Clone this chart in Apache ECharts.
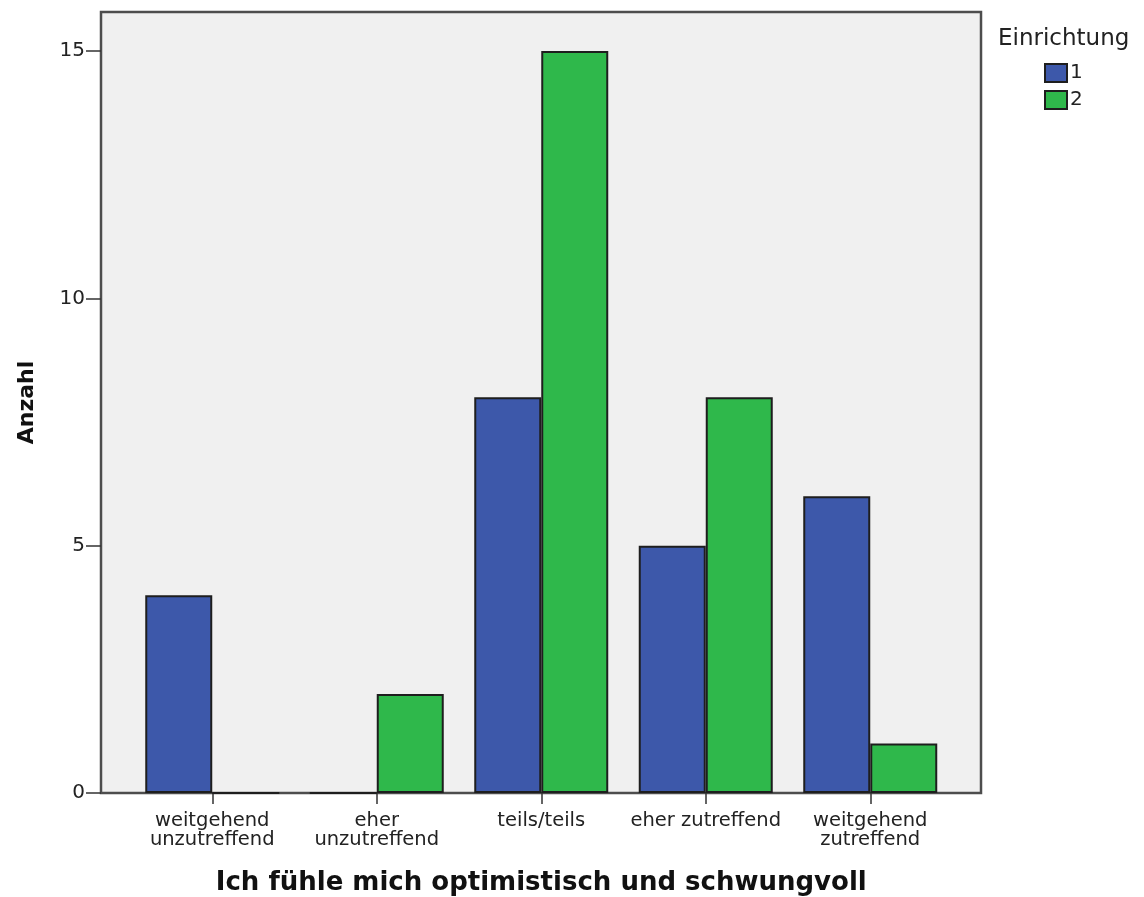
<!DOCTYPE html>
<html>
<head>
<meta charset="utf-8">
<script src="https://cdn.jsdelivr.net/npm/echarts@6/dist/echarts.min.js"></script>
<style>
html,body{margin:0;padding:0;background:#fff;}
#chart{width:1144px;height:897px;}
</style>
</head>
<body>
<div id="chart"></div>
<script>
const categories = ['weitgehend\nunzutreffend', 'eher\nunzutreffend', 'teils/teils', 'eher zutreffend', 'weitgehend\nzutreffend'];
const einrichtung1 = [4, 0, 8, 5, 6];
const einrichtung2 = [0, 2, 15, 8, 1];
const yTicks = [0, 5, 10, 15];
const seriesNames = ['1', '2'];

const FONT = 'DejaVu Sans';
const chart = echarts.init(document.getElementById('chart'), null, {renderer: 'canvas'});
chart.setOption({
  animation: false,
  backgroundColor: '#ffffff',
  textStyle: {fontFamily: FONT},
  title: {
    text: 'Einrichtung',
    left: 998, top: 28, padding: 0,
    textStyle: {fontFamily: FONT, fontSize: 23, fontWeight: 'normal', color: '#222'}
  },
  legend: {
    orient: 'vertical',
    left: 1044, top: 63, padding: 0,
    itemWidth: 22, itemHeight: 18, itemGap: 7,
    icon: 'rect',
    textStyle: {fontFamily: FONT, fontSize: 20, color: '#222', padding: [0, 0, 0, -2]},
    data: seriesNames
  },
  grid: [
    {left: 101, top: 12, width: 880, height: 781, show: true, backgroundColor: '#f0f0f0', borderColor: '#4d4d4d', borderWidth: 2.5, outerBoundsMode: 'none'},
    {left: 130, top: 12, width: 822.5, height: 781, outerBoundsMode: 'none', containLabel: false}
  ],
  xAxis: [
    {gridIndex: 0, type: 'value', show: false, min: 0, max: 1},
    {
      gridIndex: 1, type: 'category', data: categories, boundaryGap: true,
      axisLine: {show: false},
      axisTick: {show: true, alignWithLabel: true, length: 11, lineStyle: {color: '#333', width: 1.5}},
      axisLabel: {fontFamily: FONT, fontSize: 19.5, lineHeight: 19, color: '#222', margin: 18, interval: 0},
      name: 'Ich fühle mich optimistisch und schwungvoll',
      nameLocation: 'middle', nameGap: 77,
      nameTextStyle: {fontFamily: FONT, fontSize: 26, fontWeight: 'bold', color: '#111'}
    }
  ],
  yAxis: [
    {gridIndex: 0, type: 'value', show: false, min: 0, max: 1},
    {
      gridIndex: 1, type: 'value', min: 0, max: 15.79, interval: 5, offset: 29,
      axisLine: {show: false},
      axisTick: {show: true, length: 15, customValues: yTicks, lineStyle: {color: '#333', width: 1.5}},
      axisLabel: {fontFamily: FONT, fontSize: 20, color: '#222', margin: 16, customValues: yTicks},
      splitLine: {show: false},
      name: 'Anzahl', nameLocation: 'middle', nameRotate: 90, nameGap: 63,
      nameTextStyle: {fontFamily: FONT, fontSize: 22, fontWeight: 'bold', color: '#111'}
    }
  ],
  series: [
    {
      name: seriesNames[0], type: 'bar', xAxisIndex: 1, yAxisIndex: 1,
      data: einrichtung1, barWidth: 67, barGap: '0%',
      itemStyle: {color: '#3d58aa', borderColor: '#1e1e1e', borderWidth: 2}
    },
    {
      name: seriesNames[1], type: 'bar', xAxisIndex: 1, yAxisIndex: 1,
      data: einrichtung2, barWidth: 67, barGap: '0%',
      itemStyle: {color: '#2fb84b', borderColor: '#1e1e1e', borderWidth: 2}
    }
  ]
});
</script>
</body>
</html>
